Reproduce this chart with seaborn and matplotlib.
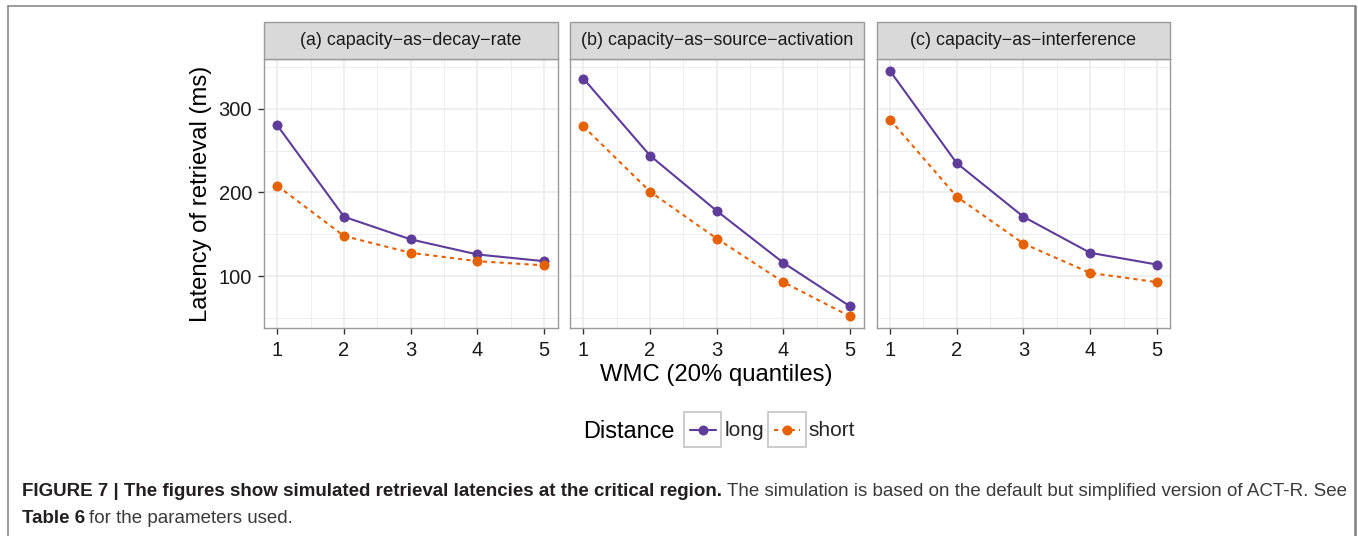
import numpy as np
import pandas as pd
import matplotlib
matplotlib.use("Agg")
import matplotlib.pyplot as plt
import seaborn as sns
from matplotlib.patches import Rectangle
from matplotlib.lines import Line2D
from matplotlib.legend_handler import HandlerTuple, HandlerLine2D

# ---- data -------------------------------------------------------------
panels = ["(a) capacity\u2212as\u2212decay\u2212rate",
          "(b) capacity\u2212as\u2212source\u2212activation",
          "(c) capacity\u2212as\u2212interference"]
wmc = [1, 2, 3, 4, 5]
distances = ["long", "short"]

long_decay = [280, 171, 144, 126, 118]
short_decay = [208, 148, 128, 118, 113]
long_source = [336, 244, 178, 116, 64]
short_source = [279, 201, 145, 93, 52]
long_interf = [345, 235, 171, 128, 114]
short_interf = [287, 195, 139, 104, 93]

series = {
    panels[0]: {"long": long_decay, "short": short_decay},
    panels[1]: {"long": long_source, "short": short_source},
    panels[2]: {"long": long_interf, "short": short_interf},
}

rows = []
for p in panels:
    for d in distances:
        for x, y in zip(wmc, series[p][d]):
            rows.append({"panel": p, "WMC": x, "Distance": d, "Latency": y})
df = pd.DataFrame(rows)

# ---- style ------------------------------------------------------------
sns.set_theme(style="white")
plt.rcParams["font.family"] = ["Liberation Sans", "DejaVu Sans"]

PURPLE = "#5E3C99"
ORANGE = "#E66101"
palette = {"long": PURPLE, "short": ORANGE}
dashes = {"long": "", "short": (2.0, 2.0)}
markers = {"long": "o", "short": "o"}
PANEL_EDGE = "#9a9a9a"
GRID = "#ebebeb"

W, H = 1358, 536
fig = plt.figure(figsize=(W / 100, H / 100), dpi=100)


def fx(px):
    return px / W


def fy(py):
    return 1 - py / H


panel_left = [264, 570, 876.7]
panel_w = 293.5
panel_top, panel_bot = 59, 328.3
strip_top = 21.7

ymin, ymax = 37.9, 359.3

for i, p in enumerate(panels):
    ax = fig.add_axes([fx(panel_left[i]), fy(panel_bot),
                       panel_w / W, (panel_bot - panel_top) / H])
    sub = df[df["panel"] == p]
    sns.lineplot(data=sub, x="WMC", y="Latency", hue="Distance",
                 style="Distance", hue_order=distances, style_order=distances,
                 palette=palette, dashes=dashes, markers=markers,
                 markersize=7.2, markeredgewidth=0, linewidth=1.5,
                 legend=False, ax=ax)
    ax.set_xlim(0.8, 5.2)
    ax.set_ylim(ymin, ymax)
    ax.set_xticks(wmc)
    ax.set_xticks([1.5, 2.5, 3.5, 4.5], minor=True)
    ax.set_yticks([100, 200, 300])
    ax.set_yticks([50, 150, 250, 350], minor=True)
    ax.grid(which="major", color=GRID, linewidth=1.1)
    ax.grid(which="minor", color=GRID, linewidth=0.6)
    ax.set_axisbelow(True)
    for s in ax.spines.values():
        s.set_color(PANEL_EDGE)
        s.set_linewidth(1.0)
    ax.set_xlabel("")
    ax.set_ylabel("")
    ax.tick_params(axis="x", which="major", length=4, width=1.0,
                   color="#333333", labelsize=14.5, pad=5.5,
                   labelcolor="#1a1a1a", bottom=True)
    ax.tick_params(which="minor", length=0)
    if i == 0:
        ax.tick_params(axis="y", which="major", length=4, width=1.0,
                       color="#333333", labelsize=14.5, pad=4.5,
                       labelcolor="#1a1a1a", left=True)
    else:
        ax.tick_params(axis="y", which="major", left=False, labelleft=False)

    # facet strip
    fig.patches.append(Rectangle((fx(panel_left[i]), fy(panel_top)),
                                 panel_w / W, (panel_top - strip_top) / H,
                                 transform=fig.transFigure,
                                 facecolor="#d9d9d9", edgecolor=PANEL_EDGE,
                                 linewidth=1.0))
    fig.text(fx(panel_left[i] + panel_w / 2), fy((strip_top + panel_top) / 2),
             p, ha="center", va="center", fontsize=12.9, color="#1a1a1a")

# axis titles
fig.text(fx(201), fy((panel_top + panel_bot) / 2), "Latency of retrieval (ms)",
         rotation=90, ha="center", va="center", fontsize=17.2, color="#000000")
fig.text(fx(716.5), fy(375), "WMC (20% quantiles)", ha="center",
         va="center", fontsize=17.2, color="#000000")


# legend keys: a boxed key with the line inset and centred in the box
class InsetLine(HandlerLine2D):
    def get_xdata(self, legend, xdescent, ydescent, width, height, fontsize):
        inset = 0.15 * width
        xdata = np.array([-xdescent + inset, -xdescent + width - inset])
        xmark = np.array([-xdescent + width / 2])
        return xdata, xmark

    def create_artists(self, legend, orig_handle, xdescent, ydescent,
                       width, height, fontsize, trans):
        return super().create_artists(legend, orig_handle, xdescent, ydescent,
                                      width, height - ydescent, fontsize,
                                      trans)


fig.text(fx(583), fy(431), "Distance", ha="left", va="center",
         fontsize=16.9, color="#000000")
handles = []
for d in distances:
    box = Rectangle((0, 0), 1, 1, facecolor="white", edgecolor="#c8c8c8",
                    linewidth=1.3)
    ln = Line2D([], [], color=palette[d], linewidth=1.5,
                linestyle="-" if d == "long" else (0, (2.0, 2.0)),
                marker="o", markersize=7.2, markeredgewidth=0)
    handles.append((box, ln))
fig.legend(handles, distances, loc="center left",
           bbox_to_anchor=(fx(684), fy(429.5)), ncol=2, frameon=False,
           fontsize=15, handlelength=1.78, handleheight=2.21,
           handletextpad=0.15, columnspacing=0.22, borderpad=0,
           borderaxespad=0, numpoints=1,
           handler_map={tuple: HandlerTuple(ndivide=1, pad=0),
                        Line2D: InsetLine()})

# caption
renderer = fig.canvas.get_renderer()
cap_size = 13.5
t1 = fig.text(fx(22), fy(492), "FIGURE 7 | The figures show simulated retrieval "
              "latencies at the critical region.", ha="left", va="center",
              fontsize=cap_size, fontweight="bold", color="#231f20")
bb = t1.get_window_extent(renderer)
fig.text(bb.x1 / W + fx(5), fy(492),
         "The simulation is based on the default but simplified version of "
         "ACT-R. See", ha="left", va="center", fontsize=cap_size,
         color="#3a3a3a")
t3 = fig.text(fx(22), fy(518.5), "Table 6", ha="left", va="center",
              fontsize=cap_size, fontweight="bold", color="#231f20")
bb3 = t3.get_window_extent(renderer)
fig.text(bb3.x1 / W + fx(4), fy(518.5), "for the parameters used.",
         ha="left", va="center", fontsize=cap_size, color="#3a3a3a")

# outer frame
frame_c = "#808080"
fig.add_artist(Line2D([fx(8), fx(8)], [fy(6), 0], color=frame_c,
                      linewidth=1.1, transform=fig.transFigure))
fig.add_artist(Line2D([fx(8), fx(1355)], [fy(6), fy(6)], color=frame_c,
                      linewidth=1.1, transform=fig.transFigure))
fig.add_artist(Line2D([fx(1355), fx(1355)], [fy(6), 0], color=frame_c,
                      linewidth=1.8, transform=fig.transFigure))

fig.savefig("out.png", dpi=100, facecolor="white")
